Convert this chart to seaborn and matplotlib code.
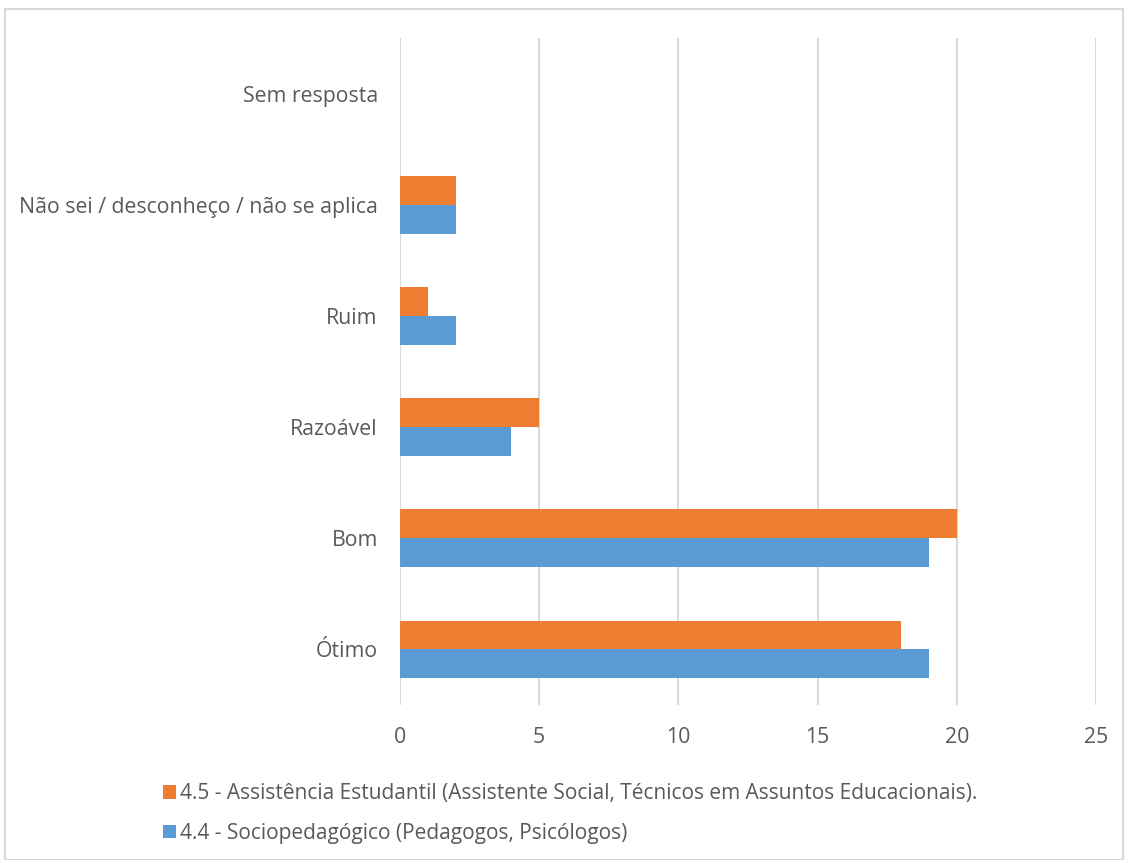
import matplotlib
matplotlib.use("Agg")
import matplotlib.pyplot as plt
import seaborn as sns
import pandas as pd
from matplotlib.patches import Patch

categories = ["Sem resposta", "Não sei / desconheço / não se aplica", "Ruim", "Razoável", "Bom", "Ótimo"]
series_names = ["4.5 - Assistência Estudantil (Assistente Social, Técnicos em Assuntos Educacionais).",
                "4.4 - Sociopedagógico (Pedagogos, Psicólogos)"]
assistencia = [0, 2, 1, 5, 20, 18]
sociopedagogico = [0, 2, 2, 4, 19, 19]
colors = ["#ED7D31", "#5B9BD5"]
xticks = [0, 5, 10, 15, 20, 25]

df = pd.DataFrame({
    "cat": categories * 2,
    "val": assistencia + sociopedagogico,
    "serie": [series_names[0]] * len(categories) + [series_names[1]] * len(categories),
})

sns.set_theme(style="white")
plt.rcParams["font.family"] = ["Open Sans", "DejaVu Sans"]

fs = 15.3
fig = plt.figure(figsize=(11.28, 8.6), dpi=100)
ax = fig.add_axes([400/1128, 1-705/860, 696/1128, 667/860])

sns.barplot(data=df, x="val", y="cat", hue="serie", order=categories, hue_order=series_names,
            palette=colors, orient="h", width=0.52, gap=0, saturation=1, ax=ax, legend=False,
            errorbar=None, linewidth=0)

ax.set_xlim(0, 25)
ax.set_ylim(5.5, -0.5)
ax.set_xticks(xticks)
ax.set_xticklabels([str(t) for t in xticks])
ax.grid(axis="x", color="#d9d9d9", linewidth=1.5)
ax.set_axisbelow(True)
for s in ax.spines.values():
    s.set_visible(False)
ax.set_xlabel("")
ax.set_ylabel("")
ax.tick_params(axis="both", length=0, labelsize=fs, colors="#595959")
ax.tick_params(axis="y", pad=16)
ax.tick_params(axis="x", pad=16)

handles = [Patch(facecolor=c, edgecolor="none") for c in colors]
leg = fig.legend(handles, series_names, loc="upper left", bbox_to_anchor=(155/1128, 1-775/860),
                 frameon=False, fontsize=15.0, labelcolor="#595959", handlelength=0.6,
                 handleheight=0.6, handletextpad=0.2, labelspacing=0.9, borderaxespad=0)

border = plt.Rectangle((5/1128, 0), 1-10/1128, 1-9/860, transform=fig.transFigure,
                       fill=False, edgecolor="#d9d9d9", linewidth=1.5)
fig.patches.append(border)

fig.savefig("out.png", dpi=100)
